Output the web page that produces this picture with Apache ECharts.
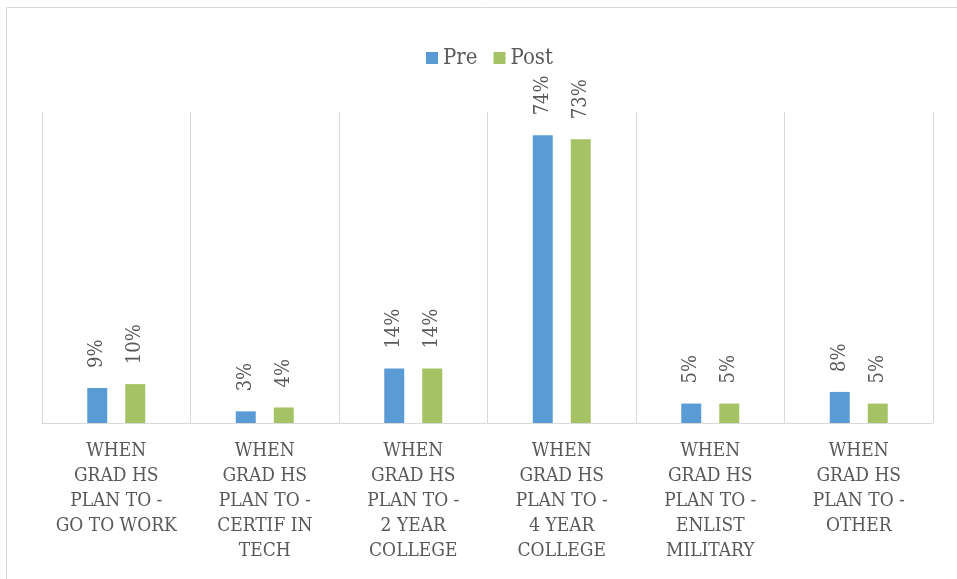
<!DOCTYPE html>
<html>
<head>
<meta charset="utf-8">
<script src="https://cdn.jsdelivr.net/npm/echarts@6/dist/echarts.min.js"></script>
<style>
  html, body { margin: 0; padding: 0; background: #fff; }
  #chart { width: 957px; height: 579px; }
</style>
</head>
<body>
<div id="chart"></div>
<script>
  // categories and values (percent)
  var categories = [
    'WHEN\nGRAD HS\nPLAN TO -\nGO TO WORK',
    'WHEN\nGRAD HS\nPLAN TO -\nCERTIF IN\nTECH',
    'WHEN\nGRAD HS\nPLAN TO -\n2 YEAR\nCOLLEGE',
    'WHEN\nGRAD HS\nPLAN TO -\n4 YEAR\nCOLLEGE',
    'WHEN\nGRAD HS\nPLAN TO -\nENLIST\nMILITARY',
    'WHEN\nGRAD HS\nPLAN TO -\nOTHER'
  ];
  var preValues = [9, 3, 14, 74, 5, 8];
  var postValues = [10, 4, 14, 73, 5, 5];

  var font = '"DejaVu Serif Condensed", "DejaVu Serif", "Liberation Serif", serif';
  var chart = echarts.init(document.getElementById('chart'));

  var labelOpt = {
    show: true,
    position: 'top',
    rotate: 90,
    distance: 20,
    align: 'left',
    verticalAlign: 'middle',
    color: '#595959',
    fontFamily: font,
    fontSize: 20,
    formatter: '{c}%'
  };

  chart.setOption({
    animation: false,
    graphic: [{
      type: 'polyline',
      shape: { points: [[6.5, 579], [6.5, 7.5], [957, 7.5]] },
      style: { stroke: '#d9d9d9', lineWidth: 1, fill: null }
    }],
    legend: {
      top: 42,
      left: 421,
      itemWidth: 12,
      itemHeight: 12,
      itemGap: 16,
      icon: 'rect',
      textStyle: { fontFamily: font, fontSize: 22, color: '#595959' },
      data: ['Pre', 'Post']
    },
    grid: { left: 42, right: 24, top: 112, bottom: 156 },
    xAxis: {
      type: 'category',
      data: categories,
      axisLine: { lineStyle: { color: '#d9d9d9', width: 1 } },
      axisTick: { show: false },
      splitLine: { show: true, interval: 0, lineStyle: { color: '#d9d9d9', width: 1 } },
      axisLabel: {
        interval: 0,
        margin: 16,
        color: '#595959',
        fontFamily: font,
        fontSize: 19,
        lineHeight: 25
      }
    },
    yAxis: {
      type: 'value',
      min: 0,
      max: 80,
      show: false,
      splitLine: { show: false }
    },
    series: [{
      name: 'Pre',
      type: 'bar',
      data: preValues,
      barWidth: 20,
      barGap: '90%',
      itemStyle: { color: '#5b9bd5' },
      label: labelOpt
    }, {
      name: 'Post',
      type: 'bar',
      data: postValues,
      barWidth: 20,
      itemStyle: { color: '#a5c364' },
      label: labelOpt
    }]
  });
</script>
</body>
</html>
